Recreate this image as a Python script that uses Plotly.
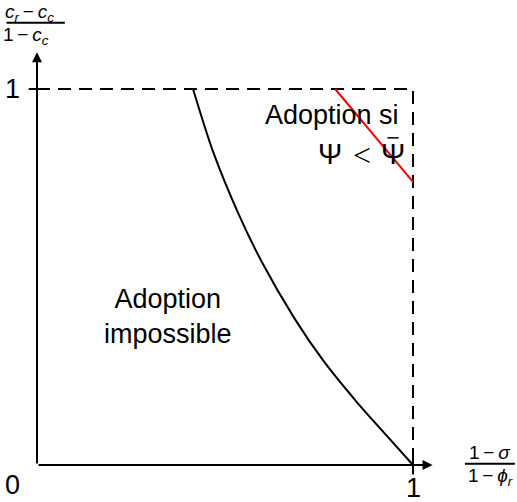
import plotly.graph_objects as go

# Frontier between "adoption impossible" and the adoption region
frontier_x = [0.415, 0.468, 0.535, 0.598, 0.686, 0.761, 0.850, 0.930, 1.0]
frontier_y = [1.000, 0.834, 0.670, 0.540, 0.388, 0.278, 0.168, 0.078, 0.0]

# Threshold line Psi = Psi-bar
threshold_x = [0.793, 0.895, 1.0]
threshold_y = [1.0, 0.878, 0.753]

# Tick labels
x_ticks = [0, 1]
y_ticks = [1]

FONT = "Liberation Sans, Arial, sans-serif"
BIG = 27
SMALL = 19

fig = go.Figure()

# Dashed unit box (top and right)
fig.add_trace(go.Scatter(x=[0, 1, 1], y=[1, 1, 0], mode="lines",
                         line=dict(color="black", width=2, dash="13px,8px"),
                         hoverinfo="skip", showlegend=False))

fig.add_trace(go.Scatter(x=frontier_x, y=frontier_y, mode="lines",
                         line=dict(color="black", width=2, shape="spline", smoothing=0.8),
                         hoverinfo="skip", showlegend=False))

fig.add_trace(go.Scatter(x=threshold_x, y=threshold_y, mode="lines",
                         line=dict(color="red", width=2),
                         hoverinfo="skip", showlegend=False))

# Axes with arrows
fig.add_annotation(x=1.052, y=0, ax=0, ay=0, xref="x", yref="y", axref="x", ayref="y",
                   text="", showarrow=True, arrowhead=2, arrowsize=1, arrowwidth=2,
                   arrowcolor="black")
fig.add_annotation(x=0, y=1.098, ax=0, ay=0, xref="x", yref="y", axref="x", ayref="y",
                   text="", showarrow=True, arrowhead=2, arrowsize=1, arrowwidth=2,
                   arrowcolor="black")

# Tick marks
fig.add_shape(type="line", x0=1, x1=1, y0=-0.025, y1=0.025,
              line=dict(color="black", width=2))
fig.add_shape(type="line", x0=-0.022, x1=0.022, y0=1, y1=1,
              line=dict(color="black", width=2))

# Tick labels
fig.add_annotation(x=-0.065, y=-0.052, text=str(x_ticks[0]), showarrow=False,
                   font=dict(size=BIG, family=FONT, color="black"))
fig.add_annotation(x=x_ticks[1], y=-0.062, text=str(x_ticks[1]), showarrow=False,
                   font=dict(size=BIG, family=FONT, color="black"))
fig.add_annotation(x=-0.065, y=y_ticks[0], text=str(y_ticks[0]), showarrow=False,
                   font=dict(size=BIG, family=FONT, color="black"))

# Y axis label as a fraction
fig.add_annotation(x=-0.02, y=1.203, text="<i>c<sub>r</sub></i>\u2009\u2212\u2009<i>c<sub>c</sub></i>",
                   showarrow=False, font=dict(size=SMALL, family=FONT, color="black"))
fig.add_shape(type="line", x0=-0.081, x1=0.074, y0=1.176, y1=1.176,
              line=dict(color="black", width=2))
fig.add_annotation(x=-0.03, y=1.140, text="1\u2009\u2212\u2009<i>c<sub>c</sub></i>",
                   showarrow=False, font=dict(size=SMALL, family=FONT, color="black"))

# X axis label as a fraction
fig.add_annotation(x=1.205, y=0.033, text="1\u2009\u2212\u2009<i>\u03c3</i>",
                   showarrow=False, font=dict(size=SMALL, family=FONT, color="black"))
fig.add_shape(type="line", x0=1.138, x1=1.271, y0=0.003, y1=0.003,
              line=dict(color="black", width=2))
fig.add_annotation(x=1.205, y=-0.032, text="1\u2009\u2212\u2009<i>\u03d5<sub>r</sub></i>",
                   showarrow=False, font=dict(size=SMALL, family=FONT, color="black"))

# Region labels
fig.add_annotation(x=0.348, y=0.395, text="Adoption<br>impossible", showarrow=False,
                   font=dict(size=BIG, family=FONT, color="black"), align="center")
fig.add_annotation(x=0.785, y=0.932, text="Adoption si", showarrow=False,
                   font=dict(size=BIG, family=FONT, color="black"))

# Condition  Psi < Psi-bar
fig.add_annotation(x=0.779, y=0.827, text="\u03a8", showarrow=False,
                   font=dict(size=29, family=FONT, color="black"))
fig.add_annotation(x=0.864, y=0.825, text="&lt;", showarrow=False,
                   font=dict(size=32, family="Liberation Serif, serif", color="black"))
fig.add_annotation(x=0.947, y=0.827, text="\u03a8", showarrow=False,
                   font=dict(size=29, family=FONT, color="black"))
fig.add_shape(type="line", x0=0.932, x1=0.962, y0=0.870, y1=0.870,
              line=dict(color="black", width=1.5))

fig.update_xaxes(range=[-37 / 376, 480 / 376], visible=False, fixedrange=True)
fig.update_yaxes(range=[-37 / 376, 465 / 376], visible=False, fixedrange=True)
fig.update_layout(width=517, height=502, margin=dict(l=0, r=0, t=0, b=0),
                  plot_bgcolor="white", paper_bgcolor="white")

fig.write_html("out.html")
